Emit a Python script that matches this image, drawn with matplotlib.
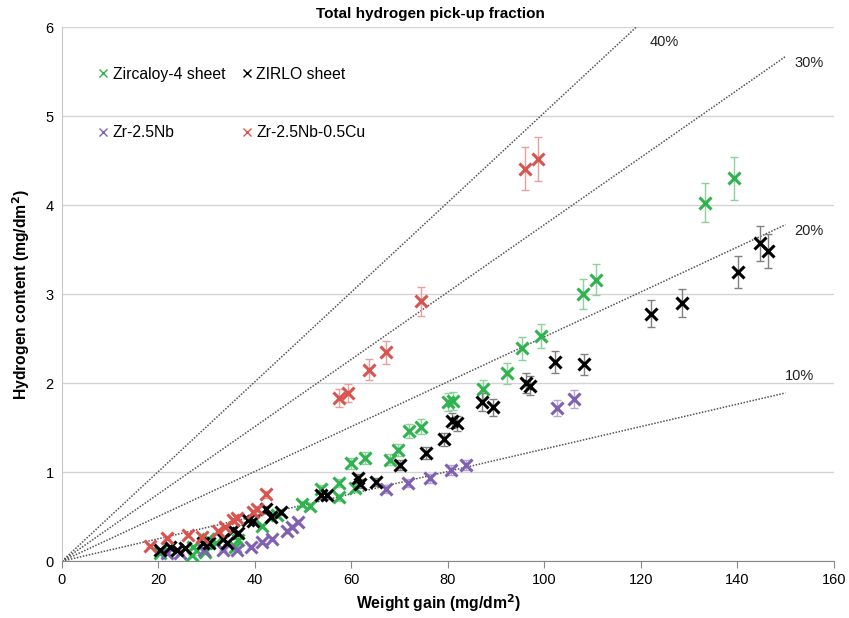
import matplotlib.pyplot as plt
import numpy as np

plt.rcParams['font.family'] = ['Liberation Sans', 'DejaVu Sans']

# weight gain (mg/dm2) and hydrogen content (mg/dm2) per alloy
zry4_wg = [20.3, 26.9, 27.2, 29.6, 30.3, 32.0, 35.9, 36.4, 41.4, 44.6, 49.7, 51.5,
           53.8, 57.5, 57.5, 60.0, 60.7, 62.9, 68.0, 69.7, 72.0, 74.5, 80.1, 81.1,
           87.2, 92.2, 95.3, 99.4, 108.0, 110.8, 133.3, 139.3]
zry4_h = [0.09, 0.07, 0.16, 0.10, 0.25, 0.20, 0.16, 0.24, 0.40, 0.52, 0.64, 0.62,
          0.81, 0.88, 0.72, 1.10, 0.82, 1.16, 1.14, 1.25, 1.46, 1.51, 1.79, 1.80,
          1.93, 2.11, 2.39, 2.53, 3.00, 3.16, 4.03, 4.30]

zirlo_wg = [20.3, 22.4, 23.8, 25.5, 29.3, 30.5, 33.4, 34.3, 35.5, 36.5, 38.6, 39.7,
            42.2, 43.3, 45.4, 53.8, 54.9, 61.4, 61.8, 65.2, 70.1, 75.4, 79.1, 80.8,
            81.8, 87.1, 89.4, 96.2, 97.0, 102.2, 108.2, 122.2, 128.6, 140.2, 144.7, 146.4]
zirlo_h = [0.12, 0.16, 0.12, 0.15, 0.20, 0.20, 0.25, 0.20, 0.35, 0.32, 0.46, 0.45,
           0.59, 0.50, 0.55, 0.74, 0.74, 0.93, 0.87, 0.89, 1.08, 1.22, 1.37, 1.58,
           1.55, 1.79, 1.73, 2.00, 1.97, 2.24, 2.21, 2.78, 2.90, 3.25, 3.57, 3.48]

nb_wg = [21.7, 24.5, 29.5, 33.4, 36.2, 39.2, 41.4, 43.5, 46.6, 47.6, 48.9,
         67.2, 71.7, 76.3, 80.6, 83.7, 102.6, 106.1]
nb_h = [0.09, 0.09, 0.13, 0.12, 0.12, 0.16, 0.21, 0.25, 0.34, 0.38, 0.44,
        0.81, 0.88, 0.93, 1.02, 1.08, 1.72, 1.82]

cu_wg = [18.2, 21.7, 26.1, 29.0, 32.4, 33.8, 35.5, 36.2, 39.6, 40.5, 42.4,
         57.4, 59.3, 63.6, 67.2, 74.4, 96.0, 98.7]
cu_h = [0.17, 0.26, 0.29, 0.27, 0.34, 0.38, 0.46, 0.49, 0.55, 0.59, 0.75,
        1.83, 1.89, 2.15, 2.35, 2.92, 4.41, 4.52]

# measurement uncertainty on hydrogen content (relative)
h_err_frac = 0.055

pickup_fracs = [0.1, 0.2, 0.3, 0.4]
pickup_labels = ['10%', '20%', '30%', '40%']
h_per_o = 2 * 1.008 / 15.999  # theoretical H mass per O mass gained

fig = plt.figure(figsize=(8.49, 6.18), dpi=100)
ax = fig.add_axes([0.073, 0.092, 0.909, 0.864])

wg_line = np.array([0, 150])
label_pos = [(149.8, 2.08), (151.9, 3.71), (151.9, 5.6), (121.9, 5.83)]
for f, lab, pos in zip(pickup_fracs, pickup_labels, label_pos):
    ax.plot(wg_line, wg_line * h_per_o * f, ls=(0, (1, 1)), color='#555555', lw=1.1, zorder=2)
    ax.text(pos[0], pos[1], lab, fontsize=10.5, color='#222222', ha='left', va='center')

series = [
    (zry4_wg, zry4_h, '#2fb34e', '#8ed19c', 'Zircaloy-4 sheet'),
    (nb_wg, nb_h, '#8060b0', '#b8a6d6', 'Zr-2.5Nb'),
    (zirlo_wg, zirlo_h, '#000000', '#808080', 'ZIRLO sheet'),
    (cu_wg, cu_h, '#d9534f', '#e8a09e', 'Zr-2.5Nb-0.5Cu'),
]
handles = []
for wg, h, col, ecol, lab in series:
    h = np.array(h)
    ax.errorbar(wg, h, yerr=h * h_err_frac, fmt='none', ecolor=ecol, elinewidth=1,
                capsize=3, capthick=1, zorder=3)
    ax.plot(wg, h, 'x', color=col, ms=8, mew=2.2, zorder=4)
    handles.append(plt.Line2D([], [], ls='none', marker='x', color=col, ms=6, mew=1, label=lab))

ax.legend(handles=handles, ncol=2, frameon=False, loc='upper left',
          bbox_to_anchor=(0.029, 0.952), fontsize=11.3, labelspacing=2.75,
          handlelength=0.6, handletextpad=0.3, columnspacing=1.1)

ax.set_xlim(0, 160)
ax.set_ylim(0, 6)
ax.set_xticks(range(0, 161, 20))
ax.set_yticks(range(0, 7))
ax.yaxis.grid(True, color='#d4d4d4', lw=1)
ax.set_axisbelow(True)
for s in ['top', 'right']:
    ax.spines[s].set_visible(False)
ax.spines['left'].set_color('#c8c8c8')
ax.spines['bottom'].set_color('#888888')
ax.tick_params(axis='y', length=0, labelsize=10.5, pad=6)
ax.tick_params(axis='x', length=5, color='#888888', labelsize=10.5, direction='out')

ax.set_xlabel('Weight gain (mg/dm$^\\mathbf{2}$)', fontsize=11.3, fontweight='bold', labelpad=4)
ax.xaxis.set_label_coords(0.488, -0.058)
ax.set_ylabel('Hydrogen content (mg/dm$^\\mathbf{2}$)', fontsize=11.3, fontweight='bold', labelpad=10)
fig.text(0.507, 0.978, 'Total hydrogen pick-up fraction', ha='center', va='center',
         fontsize=11, fontweight='bold')

fig.savefig('out.png', dpi=100)
